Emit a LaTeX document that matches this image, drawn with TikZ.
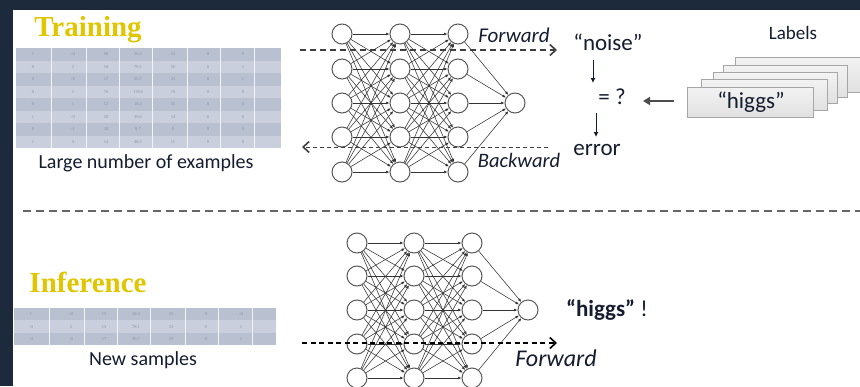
\documentclass[tikz,border=0pt]{standalone}
\usepackage{fontspec}
\setmainfont{Liberation Serif}
\newfontfamily\calfont{Carlito}
\usetikzlibrary{arrows.meta}
\definecolor{navy}{HTML}{1D2A3C}
\definecolor{gold}{HTML}{E0C600}
\definecolor{rowA}{HTML}{B9C0D0}
\definecolor{rowB}{HTML}{C9CFDC}
\definecolor{ink}{HTML}{141C2E}
\definecolor{cellnum}{HTML}{8A92A4}
\definecolor{cardline}{HTML}{A6A6A6}
\tikzset{
  neuron/.style={circle,draw=black!65,fill=white,line width=1pt,minimum size=20pt,inner sep=0pt},
  syn/.style={draw=black!80,line width=0.55pt,-{Latex[length=3.5pt,width=2.8pt]}},
  title/.style={font=\fontsize{29}{30}\selectfont\bfseries,text=gold,inner sep=0pt},
  lbl/.style={font=\calfont\fontsize{20}{22}\selectfont,text=ink,inner sep=0pt},
  flow/.style={draw=black!75,line width=1.6pt,dash pattern=on 6pt off 4pt,-{Straight Barb[length=6pt,width=11pt,line width=1.6pt]}},
  cell/.style={font=\fontsize{4.5}{5}\selectfont,text=cellnum,inner sep=0pt},
  card/.style={draw=cardline,line width=0.8pt,top color=gray!10,bottom color=gray!24,inner sep=0pt,anchor=north west},
  vdown/.style={draw=ink,line width=1pt,-{Latex[length=5pt,width=5pt]}},
  larrow/.style={draw=black!70,line width=2pt,-{Triangle[length=7pt,width=8pt]}}
}
\begin{document}
\begin{tikzpicture}[x=1pt,y=-1pt]
\useasboundingbox (0,0) rectangle (860,386);
\fill[white] (0,0) rectangle (860,386);
\fill[navy] (0,0) rectangle (860,10);
\fill[navy] (0,0) rectangle (13,386);

% titles
\node[title] (ttrain) at (88,30) {Training};
\node[title] (tinf) at (88,282) {Inference};

% top table
\foreach \r in {0,...,7} {
  \pgfmathsetmacro\yy{48+\r*12.5}
  \pgfmathparse{mod(\r,2)==0?"rowA":"rowB"}
  \fill[\pgfmathresult] (16,\yy) rectangle (281,\yy+12.5);
}
\foreach \cx in {51,86,119,152,187,220,254} \draw[white!80!rowA,line width=0.5pt] (\cx,48) -- (\cx,148);
\foreach \r/\va/\vb/\vc/\vd/\ve/\vf/\vg in {0/1/-0/68/28.4/23/0/0,1/0/2/18/78.1/56/0/1,2/0/-6/17/36.7/23/0/1,3/0/1/70/119.6/10/0/0,4/0/1/12/18.2/55/0/0,5/1/-0/20/39.6/14/0/0,6/0/-1/20/8.7/9/0/0,7/1/3/14/48.3/11/0/0} {
  \pgfmathsetmacro\yy{54.25+\r*12.5}
  \node[cell] at (33,\yy) {\va};
  \node[cell] at (73,\yy) {\vb};
  \node[cell] at (106,\yy) {\vc};
  \node[cell] at (138,\yy) {\vd};
  \node[cell] at (173,\yy) {\ve};
  \node[cell] at (208,\yy) {\vf};
  \node[cell] at (243,\yy) {\vg};
}
\node[lbl] (tlarge) at (146,163) {Large number of examples};

% bottom table
\foreach \r in {0,...,2} {
  \pgfmathsetmacro\yy{308+\r*12.4}
  \pgfmathparse{mod(\r,2)==0?"rowA":"rowB"}
  \fill[\pgfmathresult] (14,\yy) rectangle (276,\yy+12.4);
}
\foreach \cx in {49,84,117,150,185,218,252} \draw[white!80!rowA,line width=0.5pt] (\cx,308) -- (\cx,345);
\foreach \r/\va/\vb/\vc/\vd/\ve/\vf/\vg in {0/1/-0/13/28.4/23/0/-0,1/-0/2/13/78.1/53/0/1,2/-0/-6/17/36.7/23/0/1} {
  \pgfmathsetmacro\yy{314.2+\r*12.4}
  \node[cell] at (31,\yy) {\va};
  \node[cell] at (71,\yy) {\vb};
  \node[cell] at (104,\yy) {\vc};
  \node[cell] at (136,\yy) {\vd};
  \node[cell] at (171,\yy) {\ve};
  \node[cell] at (206,\yy) {\vf};
  \node[cell] at (241,\yy) {\vg};
}
\node[lbl] (tnew) at (143,360) {New samples};

% top network
\foreach \l/\x in {1/342,2/400,3/458}
  \foreach \r/\y in {1/34,2/69,3/103,4/137,5/172}
    \node[neuron] (t\l-\r) at (\x,\y) {};
\node[neuron] (tout) at (515,103) {};
\foreach \a/\b in {1/2,2/3}
  \foreach \i in {1,...,5}
    \foreach \j in {1,...,5}
      \draw[syn] (t\a-\i) -- (t\b-\j);
\foreach \i in {1,...,5} \draw[syn] (t3-\i) -- (tout);

% bottom network
\foreach \l/\x in {1/357,2/414,3/472}
  \foreach \r/\y in {1/243,2/276,3/310,4/344,5/378}
    \node[neuron] (b\l-\r) at (\x,\y) {};
\node[neuron] (bout) at (528,310) {};
\foreach \a/\b in {1/2,2/3}
  \foreach \i in {1,...,5}
    \foreach \j in {1,...,5}
      \draw[syn] (b\a-\i) -- (b\b-\j);
\foreach \i in {1,...,5} \draw[syn] (b3-\i) -- (bout);

% forward / backward arrows
\coordinate (fws) at (300,50);
\coordinate (fwe) at (557,50);
\draw[flow] (fws) -- (fwe);
\coordinate (bws) at (548,147);
\coordinate (bwe) at (302,147);
\draw[flow,line width=1pt,dash pattern=on 4pt off 3pt] (bws) -- (bwe);
\node[lbl,font=\calfont\itshape\fontsize{21}{22}\selectfont] (tfw) at (514,35) {Forward};
\node[lbl,font=\calfont\itshape\fontsize{20.5}{22}\selectfont] (tbw) at (519,160) {Backward};

\coordinate (bfs) at (302,343);
\coordinate (bfe) at (557,343);
\draw[flow,draw=black,line width=1.3pt,dash pattern=on 5pt off 3.5pt] (bfs) -- (bfe);
\node[lbl,font=\calfont\itshape\fontsize{24}{26}\selectfont] (tbf) at (556,358) {Forward};

% comparison column
\node[lbl,font=\calfont\fontsize{23}{25}\selectfont] (tnoise) at (608,42) {“noise”};
\node[lbl,font=\calfont\fontsize{23}{25}\selectfont] (teq) at (612,97) {= ?};
\node[lbl,font=\calfont\fontsize{23}{25}\selectfont] (terr) at (597,150) {error};
\coordinate (a1s) at (593,60);
\coordinate (a1e) at (593,83);
\coordinate (a2s) at (596,113);
\coordinate (a2e) at (596,137);
\draw[vdown] (a1s) -- (a1e);
\draw[vdown] (a2s) -- (a2e);

% labels stack
\node[lbl,font=\calfont\fontsize{19}{21}\selectfont] (tlabels) at (793,33) {Labels};
\node[card,minimum width=135pt,minimum height=35pt] (c5) at (735,57) {};
\node[card,minimum width=124pt,minimum height=32pt] (c4) at (723,65) {};
\node[card,minimum width=124pt,minimum height=31pt] (c3) at (713,72) {};
\node[card,minimum width=126pt,minimum height=31pt] (c2) at (701,79) {};
\node[card,minimum width=126pt,minimum height=30pt] (c1) at (687,87) {};
\node[lbl,font=\calfont\fontsize{23}{25}\selectfont] (thiggs) at (751,102) {“higgs”};
\coordinate (lc) at (674,101);
\coordinate (ld) at (643,101);
\draw[larrow] (lc) -- (ld);

% separator
\coordinate (sepa) at (23,211);
\coordinate (sepb) at (860,211);
\draw[black!60,line width=1.8pt,dash pattern=on 8pt off 5pt] (sepa) -- (sepb);

% result
\node[lbl,font=\calfont\fontsize{23}{25}\selectfont] (tres) at (607,310) {\textbf{“higgs”} !};
\end{tikzpicture}
\end{document}
